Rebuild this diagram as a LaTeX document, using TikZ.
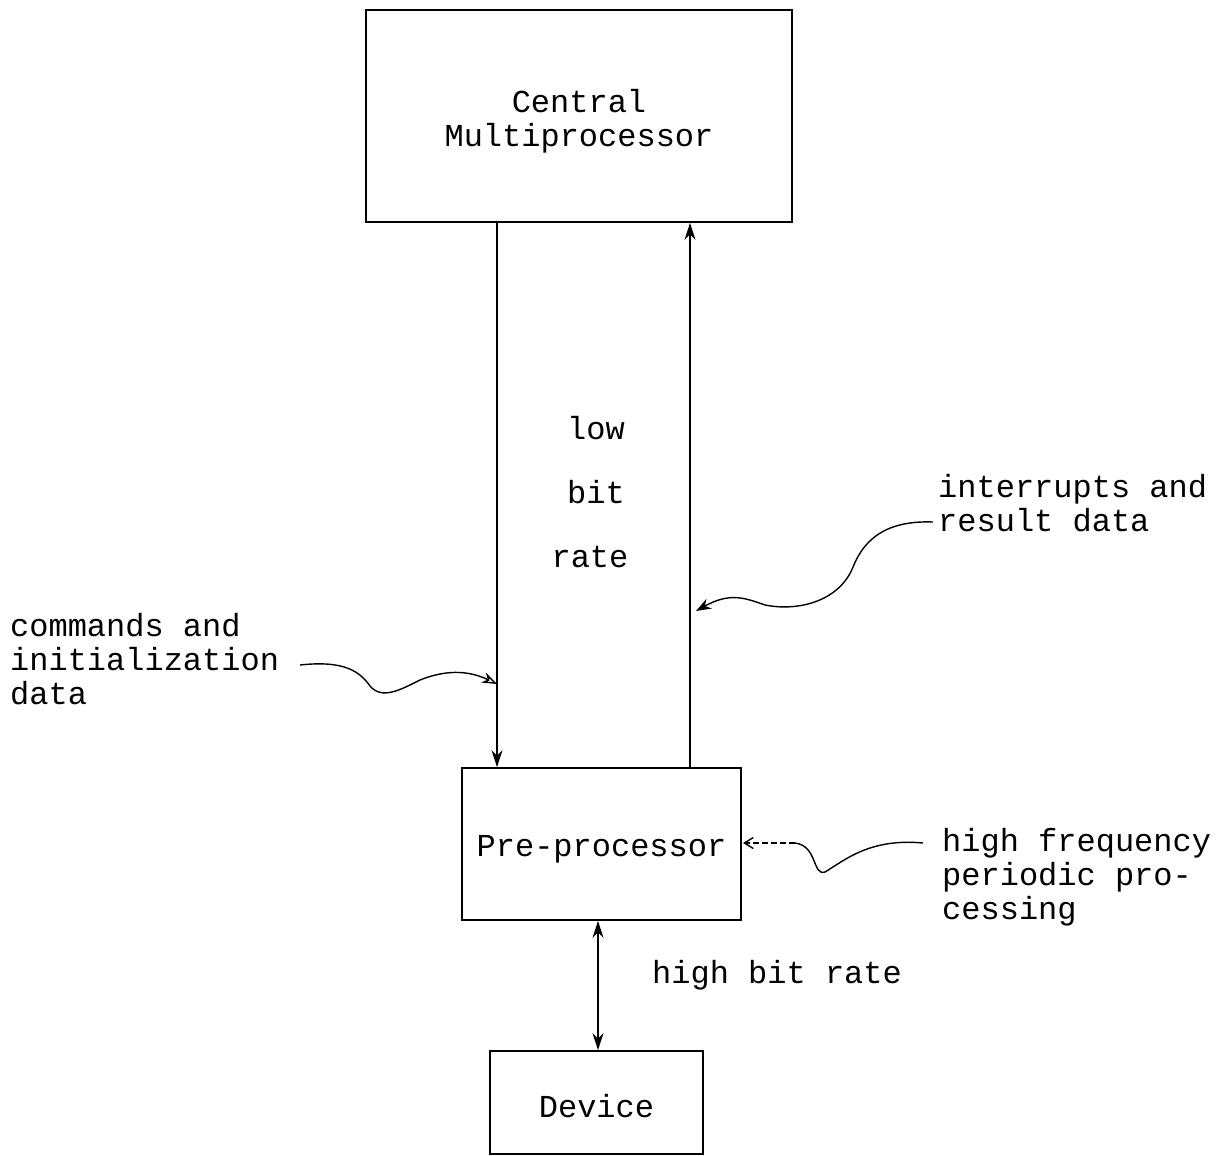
\documentclass[tikz,border=0pt]{standalone}
\usepackage{fontspec}
\setmainfont{Liberation Mono}
\usetikzlibrary{arrows.meta}
\begin{document}
\begin{tikzpicture}[x=1pt,y=-1pt,
  every node/.style={font=\fontsize{32}{34}\selectfont, inner sep=0pt},
  every label/.style={font=\fontsize{32}{34}\selectfont, inner sep=0pt, align=center},
  blockbox/.style={draw, line width=1.8pt, align=center},
  conn/.style={line width=1.5pt},
  arr/.style={conn,-{Stealth[length=17pt,width=11pt]}},
  dblarr/.style={conn,{Stealth[length=17pt,width=11pt]}-{Stealth[length=17pt,width=11pt]}},
  wavy/.style={line width=1.4pt},
  lbl/.style={anchor=west, align=left}]
\useasboundingbox (0,0) rectangle (1221,1156);
\fill[white] (0,0) rectangle (1221,1156);

% blocks
\node[blockbox, minimum width=426pt, minimum height=212pt,
  label={[name=ctext, yshift=-5pt]center:{Central\\Multiprocessor}}] (central) at (579,116) {};
\node[blockbox, minimum width=279pt, minimum height=152pt,
  label={[name=ptext, yshift=-5pt]center:Pre-processor}] (pre) at (601.5,844) {};
\node[blockbox, minimum width=213pt, minimum height=103pt,
  label={[name=dtext, yshift=-4pt]center:Device}] (dev) at (596.5,1102.5) {};

% vertical links
\coordinate (xl) at (497,0);
\coordinate (xr) at (690,0);
\coordinate (xd) at (598,0);
\draw[arr] (central.south -| xl) -- (pre.north -| xl);
\draw[arr] (pre.north -| xr) -- (central.south -| xr);
\draw[dblarr] (pre.south -| xd) -- (dev.north -| xd);

% labels
\node (low) at (596,428) {low};
\node (bit) at (596,492) {bit};
\node (rate) at (590,557) {rate};
\node[lbl] (hbr) at (652,975) {high bit rate};
\node[lbl] (cmd) at (10,659) {commands and\\initialization\\data};
\node[lbl] (intr) at (938,503) {interrupts and\\result data};
\node[lbl] (hfp) at (942,877) {high frequency\\periodic pro-\\cessing};

% wavy pointers
\coordinate (c1s) at (300,665);
\coordinate (c1e) at (497,684);
\draw[wavy,-{Stealth[open,length=15pt,width=11pt]}] (c1s)
  .. controls (345,660) and (360,672) .. (370,686)
  .. controls (382,700) and (400,690) .. (420,680)
  .. controls (450,668) and (472,672) .. (c1e);

\coordinate (c2s) at (933,522);
\coordinate (c2e) at (696,611);
\draw[wavy,-{Stealth[length=15pt,width=11pt]}] (c2s)
  .. controls (880,520) and (862,545) .. (853,567)
  .. controls (840,600) and (800,612) .. (765,605)
  .. controls (745,598) and (730,592) .. (c2e);

\coordinate (c3s) at (923,843);
\coordinate (c3m) at (795,843);
\coordinate (c3e) at (743,843);
\draw[wavy] (c3s)
  .. controls (870,838) and (845,860) .. (825,872)
  .. controls (812,876) and (818,846) .. (c3m);
\draw[wavy,dashed,dash pattern=on 6pt off 3pt,-{Straight Barb[length=9pt,width=11pt]}] (c3m) -- (c3e);
\end{tikzpicture}
\end{document}
